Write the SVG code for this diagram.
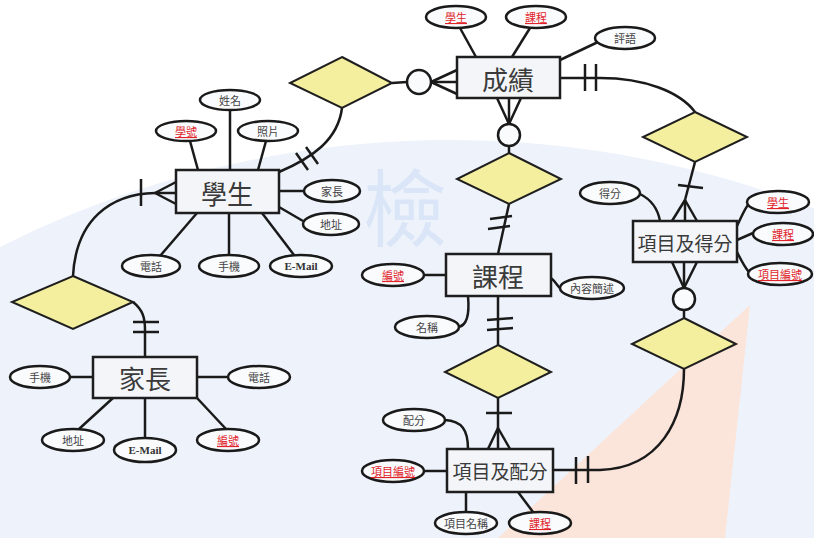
<svg xmlns="http://www.w3.org/2000/svg" width="814" height="538" viewBox="0 0 814 538">
<style>
.ent{fill:#f3f5f9;stroke:#1e1e1e;stroke-width:2.5}
.att{fill:#fafbfd;stroke:#1a1a1a;stroke-width:2.5}
.rel{fill:#f4ef9e;stroke:#1e1e1e;stroke-width:2}
.ln{fill:none;stroke:#1a1a1a;stroke-width:2.5}
.cir{fill:#fafbfd;stroke:#1a1a1a;stroke-width:2.5}
.et{font-family:"Noto Sans CJK TC","Noto Sans CJK SC",sans-serif;fill:#3a3a3a;text-anchor:middle;dominant-baseline:central}
.at{font-family:"Noto Sans CJK TC","Noto Sans CJK SC",sans-serif;font-size:11px;fill:#444;text-anchor:middle;dominant-baseline:central}
.key{fill:#e0242a;text-decoration:underline}
.em{font-family:"Liberation Serif",serif;font-weight:bold;font-size:11px;fill:#333;text-anchor:middle;dominant-baseline:central}
</style>
<rect x="0" y="0" width="814" height="538" fill="#ffffff"/>
<circle cx="450" cy="1140" r="1000" fill="#eef3fb"/>
<polygon points="750,305 498,538 725,538" fill="#fbe4d9"/>
<text x="405" y="203" font-family="Noto Sans CJK TC,sans-serif" font-size="84" fill="#d6e4f7" text-anchor="middle" dominant-baseline="central" opacity="0.8">檢</text>

<g id="connectors" class="ln">
<line x1="460" y1="28" x2="476" y2="57"/>
<line x1="530" y1="28" x2="512" y2="57"/>
<line x1="598" y1="42" x2="560" y2="60"/>
<line x1="392" y1="83" x2="407" y2="82"/>
<line x1="431" y1="82" x2="457" y2="70"/>
<line x1="431" y1="82" x2="457" y2="82"/>
<line x1="431" y1="82" x2="457" y2="94"/>
<path d="M342,108 C338,140 312,158 279,172"/>
<line x1="296" y1="153" x2="308" y2="170"/>
<line x1="306" y1="147" x2="318" y2="164"/>
<line x1="230" y1="110" x2="230" y2="170"/>
<line x1="190" y1="141" x2="198" y2="170"/>
<line x1="266" y1="141" x2="258" y2="170"/>
<line x1="279" y1="191" x2="304" y2="191"/>
<line x1="279" y1="207" x2="303" y2="221"/>
<line x1="197" y1="213" x2="160" y2="256"/>
<line x1="229" y1="213" x2="229" y2="255"/>
<line x1="262" y1="213" x2="294" y2="255"/>
<line x1="155" y1="193" x2="176" y2="182"/>
<line x1="155" y1="193" x2="176" y2="193"/>
<line x1="155" y1="193" x2="176" y2="204"/>
<line x1="141" y1="179" x2="141" y2="206"/>
<path d="M155,193 C110,194 76,220 73,276"/>
<path d="M133,302 C143,310 145,318 145,330 L145,357"/>
<line x1="133" y1="322" x2="159" y2="322"/>
<line x1="133" y1="332" x2="159" y2="332"/>
<line x1="70" y1="377" x2="93" y2="377"/>
<line x1="197" y1="377" x2="228" y2="377"/>
<line x1="113" y1="398" x2="79" y2="429"/>
<line x1="145" y1="398" x2="145" y2="438"/>
<line x1="197" y1="398" x2="226" y2="429"/>
<line x1="497" y1="98" x2="509" y2="124"/>
<line x1="509" y1="98" x2="509" y2="124"/>
<line x1="521" y1="98" x2="509" y2="124"/>
<line x1="509" y1="146" x2="509" y2="153"/>
<line x1="509" y1="204" x2="498" y2="254"/>
<line x1="490" y1="219" x2="512" y2="216"/>
<line x1="488" y1="229" x2="510" y2="226"/>
<line x1="424" y1="275" x2="446" y2="275"/>
<path d="M551,278 C556,282 558,287 561,289"/>
<path d="M468,296 C470,318 466,326 458,327"/>
<line x1="498" y1="296" x2="498" y2="345"/>
<line x1="487" y1="320" x2="513" y2="318"/>
<line x1="487" y1="330" x2="513" y2="328"/>
<line x1="498" y1="398" x2="498" y2="428"/>
<line x1="486" y1="413" x2="512" y2="413"/>
<line x1="498" y1="428" x2="488" y2="449"/>
<line x1="498" y1="428" x2="498" y2="449"/>
<line x1="498" y1="428" x2="510" y2="449"/>
<path d="M445,420 C462,421 468,430 468,449"/>
<line x1="424" y1="471" x2="447" y2="471"/>
<line x1="466" y1="492" x2="466" y2="512"/>
<line x1="518" y1="492" x2="533" y2="512"/>
<path d="M553,470 L600,470 C660,468 684,420 684,369"/>
<line x1="576" y1="457" x2="576" y2="484"/>
<line x1="588" y1="456" x2="588" y2="483"/>
<line x1="684" y1="318" x2="684" y2="310"/>
<line x1="684" y1="288" x2="672" y2="262"/>
<line x1="684" y1="288" x2="684" y2="262"/>
<line x1="684" y1="288" x2="697" y2="262"/>
<line x1="672" y1="221" x2="685" y2="200"/>
<line x1="685" y1="221" x2="685" y2="200"/>
<line x1="697" y1="221" x2="685" y2="200"/>
<line x1="685" y1="200" x2="695" y2="162"/>
<line x1="678" y1="185" x2="703" y2="188"/>
<path d="M560,78 L600,78 C645,78 680,92 695,112"/>
<line x1="585" y1="64" x2="585" y2="91"/>
<line x1="596" y1="64" x2="596" y2="91"/>
<path d="M640,194 C652,200 658,210 660,221"/>
<path d="M737,226 C742,216 744,210 748,205"/>
<line x1="737" y1="240" x2="753" y2="233"/>
<path d="M737,252 C742,262 745,268 749,272"/>
</g>

<g id="rel1"><polygon class="rel" points="342,57 392,83 342,108 290,83"/></g>
<g id="rel2"><polygon class="rel" points="509,153 561,179 509,204 457,179"/></g>
<g id="rel3"><polygon class="rel" points="498,345 551,372 498,398 445,372"/></g>
<g id="rel4"><polygon class="rel" points="684,318 736,344 684,369 632,344"/></g>
<g id="rel5"><polygon class="rel" points="695,112 747,137 695,162 643,137"/></g>
<g id="rel6"><polygon class="rel" points="73,276 133,302 73,329 12,302"/></g>

<g id="circles">
<circle class="cir" cx="419" cy="82" r="12"/>
<circle class="cir" cx="509" cy="135" r="11"/>
<circle class="cir" cx="684" cy="299" r="11"/>
</g>

<g id="grade">
<rect class="ent" x="457" y="57" width="103" height="41"/>
<text class="et" x="508" y="78" font-size="26">成績</text>
</g>
<g id="grade-student"><ellipse class="att" cx="456" cy="17" rx="30" ry="11"/><text class="at key" x="456" y="17">學生</text></g>
<g id="grade-course"><ellipse class="att" cx="536" cy="17" rx="30" ry="11"/><text class="at key" x="536" y="17">課程</text></g>
<g id="grade-comment"><ellipse class="att" cx="625" cy="38" rx="30" ry="11"/><text class="at" x="625" y="38">評語</text></g>

<g id="student">
<rect class="ent" x="176" y="170" width="103" height="43"/>
<text class="et" x="227" y="192" font-size="26">學生</text>
</g>
<g id="st-name"><ellipse class="att" cx="230" cy="100" rx="30" ry="10"/><text class="at" x="230" y="100">姓名</text></g>
<g id="st-id"><ellipse class="att" cx="186" cy="131" rx="30" ry="10"/><text class="at key" x="186" y="131">學號</text></g>
<g id="st-photo"><ellipse class="att" cx="268" cy="131" rx="30" ry="10"/><text class="at" x="268" y="131">照片</text></g>
<g id="st-parent"><ellipse class="att" cx="332" cy="191" rx="28" ry="11"/><text class="at" x="332" y="191">家長</text></g>
<g id="st-addr"><ellipse class="att" cx="331" cy="224" rx="28" ry="11"/><text class="at" x="331" y="224">地址</text></g>
<g id="st-tel"><ellipse class="att" cx="151" cy="266" rx="29" ry="11"/><text class="at" x="151" y="266">電話</text></g>
<g id="st-mobile"><ellipse class="att" cx="229" cy="266" rx="30" ry="11"/><text class="at" x="229" y="266">手機</text></g>
<g id="st-email"><ellipse class="att" cx="301" cy="266" rx="31" ry="11"/><text class="em" x="301" y="266">E-Mail</text></g>

<g id="parent">
<rect class="ent" x="93" y="357" width="104" height="41"/>
<text class="et" x="145" y="377" font-size="26">家長</text>
</g>
<g id="pa-mobile"><ellipse class="att" cx="40" cy="377" rx="30" ry="11"/><text class="at" x="40" y="377">手機</text></g>
<g id="pa-tel"><ellipse class="att" cx="259" cy="377" rx="31" ry="11"/><text class="at" x="259" y="377">電話</text></g>
<g id="pa-addr"><ellipse class="att" cx="73" cy="440" rx="31" ry="11"/><text class="at" x="73" y="440">地址</text></g>
<g id="pa-email"><ellipse class="att" cx="145" cy="450" rx="31" ry="12"/><text class="em" x="145" y="450">E-Mail</text></g>
<g id="pa-id"><ellipse class="att" cx="228" cy="440" rx="31" ry="11"/><text class="at key" x="228" y="440">編號</text></g>

<g id="course">
<rect class="ent" x="446" y="254" width="105" height="42"/>
<text class="et" x="498" y="275" font-size="26">課程</text>
</g>
<g id="co-id"><ellipse class="att" cx="393" cy="275" rx="31" ry="11"/><text class="at key" x="393" y="275">編號</text></g>
<g id="co-desc"><ellipse class="att" cx="592" cy="288" rx="32" ry="11"/><text class="at" x="592" y="288">內容簡述</text></g>
<g id="co-name"><ellipse class="att" cx="427" cy="327" rx="32" ry="11"/><text class="at" x="427" y="327">名稱</text></g>

<g id="item-score">
<rect class="ent" x="447" y="449" width="106" height="43"/>
<text class="et" x="500" y="470" font-size="19">項目及配分</text>
</g>
<g id="is-score"><ellipse class="att" cx="414" cy="420" rx="31" ry="11"/><text class="at" x="414" y="420">配分</text></g>
<g id="is-id"><ellipse class="att" cx="393" cy="471" rx="31" ry="11"/><text class="at key" x="393" y="471">項目編號</text></g>
<g id="is-name"><ellipse class="att" cx="466" cy="523" rx="31" ry="11"/><text class="at" x="466" y="523">項目名稱</text></g>
<g id="is-course"><ellipse class="att" cx="540" cy="523" rx="31" ry="11"/><text class="at key" x="540" y="523">課程</text></g>

<g id="item-grade">
<rect class="ent" x="633" y="221" width="104" height="41"/>
<text class="et" x="685" y="242" font-size="19">項目及得分</text>
</g>
<g id="ig-score"><ellipse class="att" cx="610" cy="193" rx="30" ry="11"/><text class="at" x="610" y="193">得分</text></g>
<g id="ig-student"><ellipse class="att" cx="778" cy="202" rx="31" ry="11"/><text class="at key" x="778" y="202">學生</text></g>
<g id="ig-course"><ellipse class="att" cx="783" cy="234" rx="30" ry="11"/><text class="at key" x="783" y="234">課程</text></g>
<g id="ig-id"><ellipse class="att" cx="780" cy="274" rx="32" ry="11"/><text class="at key" x="780" y="274">項目編號</text></g>
</svg>
